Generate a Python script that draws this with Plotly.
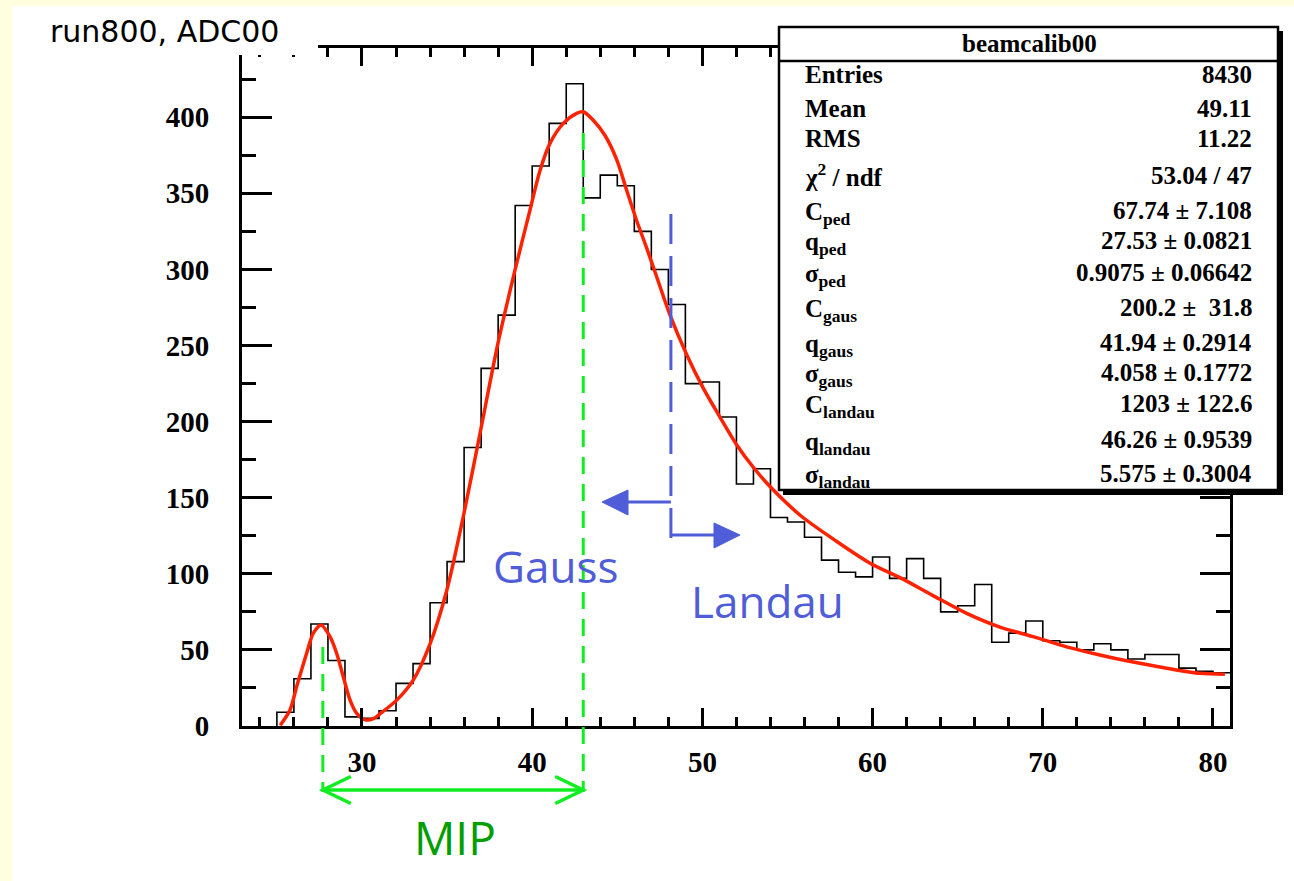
import plotly.graph_objects as go

# ---------------- data ----------------
bin_lo = [25, 26, 27, 28, 29, 30, 31, 32, 33, 34,
          35, 36, 37, 38, 39, 40, 41, 42, 43, 44,
          45, 46, 47, 48, 49, 50, 51, 52, 53, 54,
          55, 56, 57, 58, 59, 60, 61, 62, 63, 64,
          65, 66, 67, 68, 69, 70, 71, 72, 73, 74,
          75, 76, 77, 78, 79, 80]
counts = [9, 31, 67, 43, 6, 5, 10, 28, 41, 81,
          108, 183, 235, 270, 342, 368, 396, 422, 347, 362,
          355, 325, 300, 277, 225, 226, 203, 159, 169, 137,
          134, 124, 109, 101, 98, 111, 97, 110, 97, 75,
          79, 93, 55, 61, 69, 56, 55, 50, 54, 50,
          44, 47, 47, 38, 36, 35]
BIN_WIDTH = 1

fit_x = [25.2, 25.77, 26.16, 26.75, 27.14, 27.6, 28.12, 28.51, 28.9, 29.3,
         29.69, 30.2, 30.7, 31.06, 32.04, 33.0, 34.0, 34.98, 35.95, 36.93,
         38.0, 39.0, 39.87, 40.46, 41.05, 41.83, 42.61, 43.0, 43.59, 44.28,
         44.97, 45.55, 46.14, 46.73, 47.32, 48.1, 49.08, 50.05, 51.03,
         52.0, 52.99, 54.0, 55.8, 57.8, 59.85, 61.7, 63.5, 65.53, 67.48,
         69.44, 71.4, 73.36, 75.32, 77.28, 79.24, 80.7]
fit_y = [0.5, 10.5, 25.8, 47.8, 61, 66.4, 58.7, 47.8, 32.4, 17,
         8.3, 4, 5, 8, 17, 30, 54, 89, 137.5, 192,
         252, 300, 339, 365, 383, 396, 402.6, 403.6, 398, 388,
         372, 352, 332, 314, 295, 270, 244, 222, 203,
         185, 170, 157, 138, 122, 107, 97, 86, 74, 65,
         58.7, 52, 46.6, 42, 38, 34.6, 34]

stats_title = "beamcalib00"
stats_labels = ["Entries", "Mean", "RMS", "χ<sup>2</sup> / ndf",
                "C<sub>ped</sub>", "q<sub>ped</sub>", "σ<sub>ped</sub>",
                "C<sub>gaus</sub>", "q<sub>gaus</sub>", "σ<sub>gaus</sub>",
                "C<sub>landau</sub>", "q<sub>landau</sub>", "σ<sub>landau</sub>"]
stats_values = ["8430", "49.11", "11.22", "53.04 / 47",
                "67.74 ± 7.108", "27.53 ± 0.0821", "0.9075 ± 0.06642",
                "200.2 ±\u00a0\u00a031.8", "41.94 ± 0.2914", "4.058 ± 0.1772",
                "1203 ± 122.6", "46.26 ± 0.9539", "5.575 ± 0.3004"]

title_text = "run800, ADC00"
x_ticks = [30, 40, 50, 60, 70, 80]
y_ticks = [0, 50, 100, 150, 200, 250, 300, 350, 400]

# ---------------- layout geometry ----------------
W, H = 1294, 881
L, R, T, B = 242, 1230, 48, 726
X_RANGE = [22.95, 81.0]
Y_RANGE = [0, 445.5]

def px(xp):
    return (xp - L) / (R - L)

def py(yp):
    return (B - yp) / (B - T)

def dx(v):
    return (v - X_RANGE[0]) / (X_RANGE[1] - X_RANGE[0])

MIP_LO, MIP_HI = 27.7, 43.0
SPLIT = 48.15

GREEN = "#10EE22"
DKGREEN = "#009E00"
BLUE = "#4F5DD8"
RED = "#FF2200"

fig = go.Figure()

hx = [bin_lo[0]] + bin_lo + [bin_lo[-1] + BIN_WIDTH]
hy = [0] + counts + [counts[-1]]
fig.add_trace(go.Scatter(x=hx, y=hy, mode="lines", line=dict(color="black", width=1.6, shape="hv"),
                         hoverinfo="skip", showlegend=False))
fig.add_trace(go.Scatter(x=fit_x, y=fit_y, mode="lines",
                         line=dict(color=RED, width=3.5, shape="spline", smoothing=0.8),
                         hoverinfo="skip", showlegend=False))

shapes = []
shapes.append(dict(type="rect", xref="paper", yref="paper", layer="below",
                   x0=px(12), x1=px(W + 5), y0=py(H + 5), y1=py(6),
                   fillcolor="white", line=dict(width=0)))
shapes.append(dict(type="rect", xref="paper", yref="paper", layer="above",
                   x0=px(12), x1=px(318), y0=py(55), y1=py(6),
                   fillcolor="white", line=dict(width=0)))

shapes.append(dict(type="line", xref="paper", yref="paper", layer="above",
                   x0=dx(MIP_LO), x1=dx(MIP_LO), y0=py(647), y1=py(792),
                   line=dict(color=GREEN, width=3, dash="17px,10px")))
shapes.append(dict(type="line", xref="paper", yref="paper", layer="above",
                   x0=dx(MIP_HI), x1=dx(MIP_HI), y0=py(133), y1=py(792),
                   line=dict(color=GREEN, width=3, dash="17px,10px")))
xa, xb = dx(MIP_LO), dx(MIP_HI)
ya = py(790)
hdx = 28 / (R - L)
hdy = 13.5 / (B - T)
shapes.append(dict(type="line", xref="paper", yref="paper", x0=xa, x1=xb, y0=ya, y1=ya,
                   line=dict(color=GREEN, width=3.5)))
for sx, sgn in ((xa, 1), (xb, -1)):
    shapes.append(dict(type="path", xref="paper", yref="paper",
                       path=f"M {sx + sgn*hdx} {ya + hdy} L {sx} {ya} L {sx + sgn*hdx} {ya - hdy}",
                       line=dict(color=GREEN, width=3.5)))

xs = dx(SPLIT)
shapes.append(dict(type="line", xref="paper", yref="paper", layer="above",
                   x0=xs, x1=xs, y0=py(214), y1=py(541),
                   line=dict(color=BLUE, width=3, dash="30px,12px")))
shapes.append(dict(type="line", xref="paper", yref="paper",
                   x0=xs, x1=px(625), y0=py(502), y1=py(502), line=dict(color=BLUE, width=3)))
shapes.append(dict(type="path", xref="paper", yref="paper",
                   path=f"M {px(602)} {py(502)} L {px(628)} {py(490)} L {px(628)} {py(515)} Z",
                   fillcolor=BLUE, line=dict(color=BLUE, width=1)))
shapes.append(dict(type="line", xref="paper", yref="paper",
                   x0=xs, x1=px(717), y0=py(535), y1=py(535), line=dict(color=BLUE, width=3)))
shapes.append(dict(type="path", xref="paper", yref="paper",
                   path=f"M {px(740)} {py(535)} L {px(714)} {py(523)} L {px(714)} {py(548)} Z",
                   fillcolor=BLUE, line=dict(color=BLUE, width=1)))

shapes.append(dict(type="rect", xref="paper", yref="paper", layer="above",
                   x0=px(783), x1=px(1283), y0=py(495), y1=py(31),
                   fillcolor="black", line=dict(width=0)))
shapes.append(dict(type="rect", xref="paper", yref="paper", layer="above",
                   x0=px(779), x1=px(1278), y0=py(490), y1=py(27),
                   fillcolor="white", line=dict(color="black", width=2.5)))
shapes.append(dict(type="line", xref="paper", yref="paper", layer="above",
                   x0=px(779), x1=px(1278), y0=py(61), y1=py(61),
                   line=dict(color="black", width=2.5)))

annotations = []
annotations.append(dict(text=title_text, xref="paper", yref="paper", x=px(48), y=py(32),
                        xanchor="left", yanchor="middle", showarrow=False,
                        font=dict(family="DejaVu Sans", size=30, color="black")))
annotations.append(dict(text=stats_title, xref="paper", yref="paper", x=px(1029), y=py(44),
                        xanchor="center", yanchor="middle", showarrow=False,
                        font=dict(family="Liberation Serif", size=25, color="black", weight="bold")))
row_y = [75, 108, 138, 175, 210, 240, 272, 307, 342, 372, 403, 440, 473]
for lab, val, yy in zip(stats_labels, stats_values, row_y):
    off = 3 if "<sub>" in lab else 0
    annotations.append(dict(text=lab, xref="paper", yref="paper", x=px(803), y=py(yy + off),
                            xanchor="left", yanchor="middle", showarrow=False,
                            font=dict(family="Liberation Serif", size=25, color="black", weight="bold")))
    annotations.append(dict(text=val, xref="paper", yref="paper", x=px(1254), y=py(yy),
                            xanchor="right", yanchor="middle", showarrow=False,
                            font=dict(family="Liberation Serif", size=25, color="black", weight="bold")))

annotations.append(dict(text="MIP", xref="paper", yref="paper", x=px(455), y=py(837),
                        xanchor="center", yanchor="middle", showarrow=False,
                        font=dict(family="Open Sans", size=46, color=DKGREEN)))
annotations.append(dict(text="Gauss", xref="paper", yref="paper", x=px(555), y=py(566),
                        xanchor="center", yanchor="middle", showarrow=False,
                        font=dict(family="Open Sans", size=44, color=BLUE)))
annotations.append(dict(text="Landau", xref="paper", yref="paper", x=px(767), y=py(601),
                        xanchor="center", yanchor="middle", showarrow=False,
                        font=dict(family="Open Sans", size=44, color=BLUE)))

tickfont = dict(family="Liberation Serif", size=29, color="black", weight="bold")

fig.update_layout(
    width=W, height=H, autosize=False,
    margin=dict(l=L, r=W - R, t=T, b=H - B, pad=0),
    paper_bgcolor="#FFFFE0", plot_bgcolor="white",
    showlegend=False,
    shapes=shapes, annotations=annotations,
    xaxis=dict(range=X_RANGE, tickmode="array", tickvals=x_ticks, ticktext=[str(v) for v in x_ticks],
               ticks="inside", ticklen=18, tickwidth=3, tickcolor="black",
               minor=dict(dtick=2, tick0=0, ticks="inside", ticklen=9, tickwidth=3, tickcolor="black"),
               showline=True, linecolor="black", linewidth=3, mirror="ticks",
               showgrid=False, zeroline=False, tickfont=tickfont, ticklabelstandoff=8),
    yaxis=dict(range=Y_RANGE, tickmode="array", tickvals=y_ticks, ticktext=[str(v) for v in y_ticks],
               ticks="inside", ticklen=30, tickwidth=3, tickcolor="black",
               minor=dict(dtick=25, tick0=0, ticks="inside", ticklen=14, tickwidth=3, tickcolor="black"),
               showline=True, linecolor="black", linewidth=3, mirror="ticks",
               showgrid=False, zeroline=False, tickfont=tickfont, ticklabelstandoff=24),
)

fig.write_html("out.html")
